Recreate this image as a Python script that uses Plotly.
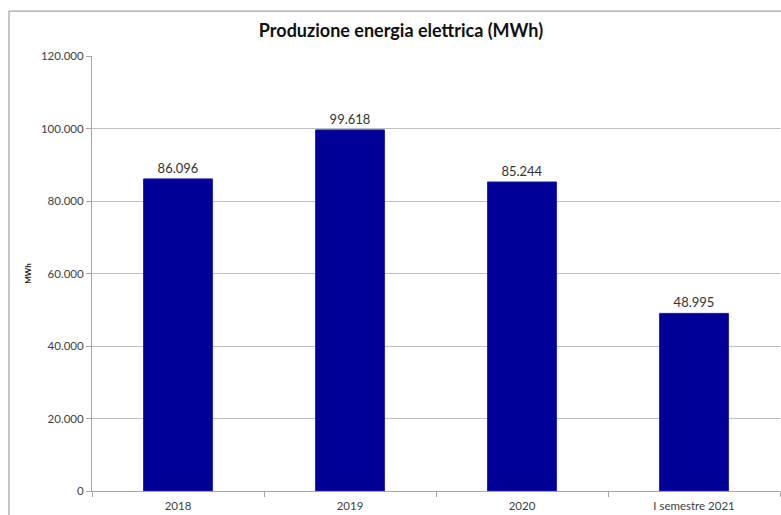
import plotly.graph_objects as go

categories = ["2018", "2019", "2020", "I semestre 2021"]
values = [86096, 99618, 85244, 48995]
y_ticks = [0, 20000, 40000, 60000, 80000, 100000, 120000]

FONT = "Lato"

fig = go.Figure()
fig.add_trace(go.Bar(
    x=categories, y=values,
    marker=dict(color="#000099", line=dict(color="#1a1aa8", width=1)),
    width=0.4,
    texttemplate="%{y:,}",
    textposition="outside",
    textfont=dict(family=FONT, size=13, color="#333333"),
    cliponaxis=False,
))

fig.update_layout(
    width=781, height=515,
    margin=dict(l=92, r=1, t=56, b=24),
    paper_bgcolor="white", plot_bgcolor="white",
    separators=",.",
    showlegend=False,
    title=dict(text="<b>Produzione energia elettrica (MWh)</b>",
               font=dict(family=FONT, size=18, color="#111111"),
               x=401 / 781, xanchor="center", y=1 - 31 / 515, yanchor="middle", xref="container"),
    font=dict(family=FONT, color="#333333"),
    shapes=[dict(type="rect", xref="paper", yref="paper",
                 x0=(9 - 92) / 688, x1=1.01, y0=-0.06, y1=1 + 45 / 435.5,
                 line=dict(color="#8c8c8c", width=1), fillcolor="rgba(0,0,0,0)", layer="below")],
)

fig.update_yaxes(
    range=[0, 120000], tickvals=y_ticks, tickformat=",d",
    showgrid=True, gridcolor="#bfbfbf", gridwidth=1,
    showline=True, linecolor="#a6a6a6", linewidth=1,
    ticks="outside", ticklen=5, tickcolor="#a6a6a6",
    tickfont=dict(family=FONT, size=11.5, color="#404040"),
    title=dict(text="<b>MWh</b>", font=dict(family=FONT, size=8, color="#222222"), standoff=8),
    zeroline=False,
)
fig.update_xaxes(
    showline=True, linecolor="#a6a6a6", linewidth=1,
    ticks="outside", ticklen=5, tickcolor="#a6a6a6", tickson="boundaries",
    tickfont=dict(family=FONT, size=11.5, color="#404040"),
    ticklabelstandoff=4,
    showgrid=False,
)

fig.write_html("out.html")
